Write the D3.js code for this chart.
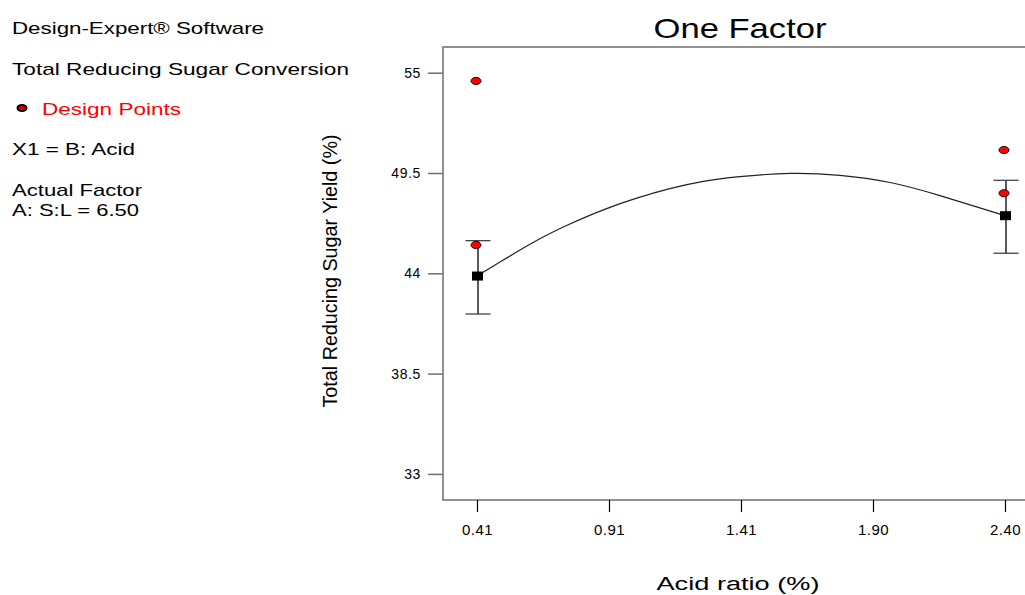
<!DOCTYPE html>
<html>
<head>
<meta charset="utf-8">
<script src="https://cdn.jsdelivr.net/npm/d3@7"></script>
<style>
  body { margin: 0; background: #fff; }
  svg { display: block; font-family: "Liberation Sans", Arial, sans-serif; }
</style>
</head>
<body>
<svg id="chart" width="1025" height="595"></svg>
<script>
// factor levels (acid ratio %) and the y axis ticks
var xTickValues = [0.41, 0.9075, 1.405, 1.9025, 2.40];
var xTickLabels = ["0.41", "0.91", "1.41", "1.90", "2.40"];
var yTickValues = [33, 38.5, 44, 49.5, 55];

// design points (actual runs)
var designX = [0.41, 0.41, 2.40, 2.40];
var designY = [54.55, 45.55, 50.76, 48.39];

// predicted means with their confidence interval
var meanX = [0.41, 2.40];
var meanY = [43.85, 47.16];
var meanLow = [41.77, 45.10];
var meanHigh = [45.79, 49.10];

// model curve
var curveX = [0.41, 0.509, 0.635, 0.760, 0.886, 1.012, 1.137, 1.263, 1.401, 1.590, 1.778, 1.967, 2.155, 2.40];
var curveY = [43.85, 44.73, 45.80, 46.70, 47.48, 48.12, 48.64, 49.04, 49.30, 49.48, 49.37, 48.98, 48.26, 47.16];

var infoLines = [
  { text: "Design-Expert\u00ae Software", y: 34, len: 252 },
  { text: "Total Reducing Sugar Conversion", y: 75, len: 337 },
  { text: "X1 = B: Acid", y: 155, len: 123 },
  { text: "Actual Factor", y: 196, len: 130 },
  { text: "A: S:L = 6.50", y: 216, len: 127 }
];

var svg = d3.select("#chart");

var plot = { left: 443, top: 47, bottom: 500, right: 1040 };

var x = d3.scaleLinear().domain([0.41, 2.40]).range([477, 1005]);
var y = d3.scaleLinear().domain([31.57, 56.41]).range([plot.bottom, plot.top]);

// left info panel
var info = svg.append("g").attr("class", "info");
infoLines.forEach(function (d) {
  info.append("text")
    .attr("x", 12)
    .attr("y", d.y)
    .attr("font-size", 17)
    .attr("textLength", d.len)
    .attr("lengthAdjust", "spacingAndGlyphs")
    .text(d.text);
});
info.append("ellipse")
  .attr("cx", 22).attr("cy", 108)
  .attr("rx", 4.5).attr("ry", 3)
  .attr("fill", "#e00000")
  .attr("stroke", "#000").attr("stroke-width", 2);
info.append("text")
  .attr("x", 42).attr("y", 115)
  .attr("font-size", 17)
  .attr("fill", "#ff0000")
  .attr("textLength", 139)
  .attr("lengthAdjust", "spacingAndGlyphs")
  .text("Design Points");

// title
svg.append("text")
  .attr("x", 740).attr("y", 38)
  .attr("text-anchor", "middle")
  .attr("font-size", 28)
  .attr("textLength", 173)
  .attr("lengthAdjust", "spacingAndGlyphs")
  .text("One Factor");

// frame
svg.append("path")
  .attr("d", "M" + plot.right + "," + plot.top + "H" + plot.left + "V" + plot.bottom + "H" + plot.right)
  .attr("fill", "none")
  .attr("stroke", "#6e6e6e")
  .attr("stroke-width", 1.5);

// y axis
var yAxis = d3.axisLeft(y).tickValues(yTickValues).tickSize(15).tickPadding(7).tickFormat(d3.format("~g"));
var gy = svg.append("g")
  .attr("transform", "translate(" + plot.left + ",0)")
  .call(yAxis);
gy.select(".domain").remove();
gy.selectAll(".tick line").attr("stroke", "#6e6e6e").attr("stroke-width", 1.5);
gy.selectAll(".tick text")
  .attr("font-size", 14)
  .attr("font-family", "Liberation Sans, Arial, sans-serif")
  .attr("letter-spacing", 0.6)
  .attr("fill", "#000");

// x axis
var xAxis = d3.axisBottom(x).tickValues(xTickValues).tickSize(12).tickPadding(12)
  .tickFormat(function (d, i) { return xTickLabels[i]; });
var gx = svg.append("g")
  .attr("transform", "translate(0," + plot.bottom + ")")
  .call(xAxis);
gx.select(".domain").remove();
gx.selectAll(".tick line").attr("stroke", "#000").attr("stroke-width", 1.2);
gx.selectAll(".tick text")
  .attr("font-size", 15)
  .attr("font-family", "Liberation Sans, Arial, sans-serif")
  .attr("letter-spacing", 0.5)
  .attr("fill", "#000");

// axis titles
svg.append("text")
  .attr("x", 738).attr("y", 590)
  .attr("text-anchor", "middle")
  .attr("font-size", 18)
  .attr("textLength", 163)
  .attr("lengthAdjust", "spacingAndGlyphs")
  .text("Acid ratio (%)");

svg.append("text")
  .attr("transform", "translate(337,271) rotate(-90)")
  .attr("text-anchor", "middle")
  .attr("font-size", 20)
  .attr("textLength", 273)
  .attr("lengthAdjust", "spacingAndGlyphs")
  .text("Total Reducing Sugar Yield (%)");

// model curve
var line = d3.line()
  .x(function (d) { return x(d[0]); })
  .y(function (d) { return y(d[1]); })
  .curve(d3.curveNatural);
svg.append("path")
  .datum(d3.zip(curveX, curveY))
  .attr("d", line)
  .attr("fill", "none")
  .attr("stroke", "#222")
  .attr("stroke-width", 1.2);

// confidence bars
var bars = svg.append("g").attr("class", "bars");
meanX.forEach(function (mx, i) {
  var cx = x(mx) + 1;
  bars.append("line")
    .attr("x1", cx).attr("x2", cx)
    .attr("y1", y(meanHigh[i])).attr("y2", y(meanLow[i]))
    .attr("stroke", "#000").attr("stroke-width", 1.3);
  [meanHigh[i], meanLow[i]].forEach(function (v) {
    bars.append("line")
      .attr("x1", cx - 12.5).attr("x2", cx + 12.5)
      .attr("y1", y(v)).attr("y2", y(v))
      .attr("stroke", "#444").attr("stroke-width", 1.3);
  });
  bars.append("rect")
    .attr("x", x(mx) - 5).attr("y", y(meanY[i]) - 4.5)
    .attr("width", 11).attr("height", 9)
    .attr("fill", "#000");
});

// design points
svg.append("g").attr("class", "points")
  .selectAll("ellipse")
  .data(d3.zip(designX, designY))
  .join("ellipse")
  .attr("cx", function (d) { return x(d[0]) - 1; })
  .attr("cy", function (d) { return y(d[1]); })
  .attr("rx", 5)
  .attr("ry", 3.6)
  .attr("fill", "#ff0000")
  .attr("stroke", "#000")
  .attr("stroke-width", 0.9);
</script>
</body>
</html>
